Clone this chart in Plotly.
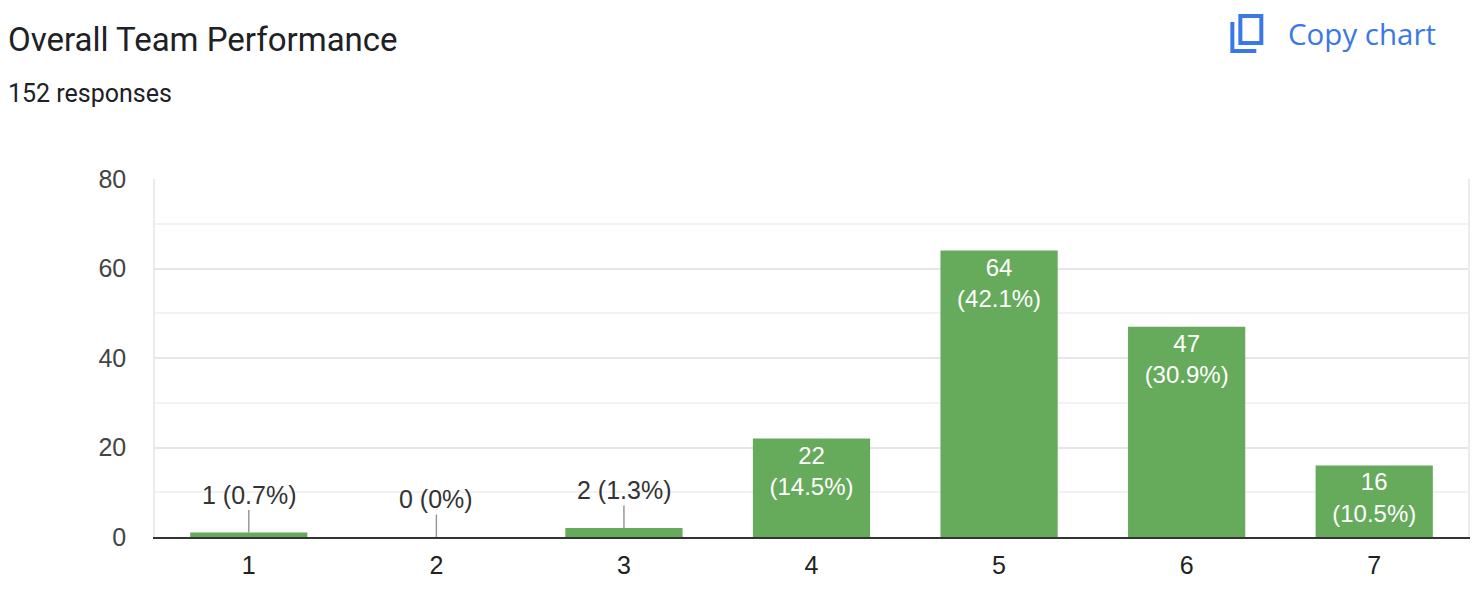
import plotly.graph_objects as go

# survey answers on a 1-7 scale
categories = ["1", "2", "3", "4", "5", "6", "7"]
counts = [1, 0, 2, 22, 64, 47, 16]
percents = ["0.7%", "0%", "1.3%", "14.5%", "42.1%", "30.9%", "10.5%"]
y_ticks = [0, 20, 40, 60, 80]

title_text = "Overall Team Performance"
subtitle_text = "152 responses"

W, H = 1482, 596
L, R, T, B = 155, 12, 179, 59
BAR_COLOR = "#66aa5c"
BLUE = "#3b78e7"


def px_x(p):
    # pixel column -> paper x
    return (p - L) / (W - L - R)


def px_y(p):
    # pixel row -> paper y
    return (H - B - p) / (H - T - B)


# small bars get their label outside with a leader line
small = [c < 5 for c in counts]
inside_text = [
    "" if s else f"{c}<br>({p})" for c, p, s in zip(counts, percents, small)
]

fig = go.Figure()
fig.add_trace(
    go.Bar(
        x=categories,
        y=counts,
        marker=dict(color=BAR_COLOR, line=dict(width=0)),
        text=inside_text,
        textposition="inside",
        insidetextanchor="end",
        textangle=0,
        textfont=dict(family="Liberation Sans, Arial", size=24, color="white"),
        hoverinfo="skip",
    )
)

for i, (c, p, s) in enumerate(zip(counts, percents, small)):
    if not s:
        continue
    fig.add_annotation(
        x=i,
        y=c,
        xref="x",
        yref="y",
        text=f"{c} ({p})",
        showarrow=True,
        arrowhead=0,
        arrowwidth=1.5,
        arrowcolor="#999999",
        ax=0,
        ay=-38,
        font=dict(family="Liberation Sans, Arial", size=25, color="#333333"),
    )

# header texts
fig.add_annotation(
    x=px_x(6), y=px_y(39), xref="paper", yref="paper",
    text=title_text, showarrow=False, xanchor="left", yanchor="middle",
    font=dict(family="Roboto", size=33, color="#202124"),
)
fig.add_annotation(
    x=px_x(6), y=px_y(94), xref="paper", yref="paper",
    text=subtitle_text, showarrow=False, xanchor="left", yanchor="middle",
    font=dict(family="Roboto", size=25, color="#202124"),
)
fig.add_annotation(
    x=px_x(1288), y=px_y(34), xref="paper", yref="paper",
    text="Copy chart", showarrow=False, xanchor="left", yanchor="middle",
    font=dict(family="Open Sans", size=29.5, color=BLUE),
)

# copy icon
fig.add_shape(
    type="rect", xref="paper", yref="paper",
    x0=px_x(1242), x1=px_x(1263), y0=px_y(43), y1=px_y(16),
    line=dict(color=BLUE, width=4), fillcolor="rgba(0,0,0,0)",
)
fig.add_shape(
    type="path", xref="paper", yref="paper",
    path=f"M {px_x(1234)},{px_y(22)} L {px_x(1234)},{px_y(51)} L {px_x(1258)},{px_y(51)}",
    line=dict(color=BLUE, width=4),
)

fig.update_layout(
    width=W,
    height=H,
    margin=dict(l=L, r=R, t=T, b=B),
    paper_bgcolor="white",
    plot_bgcolor="white",
    showlegend=False,
    bargap=0.375,
    xaxis=dict(
        type="category",
        showgrid=False,
        showline=True,
        linecolor="#333333",
        linewidth=2,
        ticks="outside",
        ticklen=5,
        tickcolor="rgba(0,0,0,0)",
        tickfont=dict(family="Liberation Sans, Arial", size=25, color="#222222"),
        fixedrange=True,
    ),
    yaxis=dict(
        range=[0, 80],
        tickvals=y_ticks,
        showgrid=True,
        gridcolor="#e6e6e6",
        gridwidth=1.5,
        minor=dict(dtick=10, showgrid=True, gridcolor="#f2f2f2", gridwidth=1.5),
        zeroline=False,
        showline=True,
        linecolor="#ebebeb",
        linewidth=1.5,
        mirror=True,
        ticks="outside",
        ticklen=22,
        tickcolor="rgba(0,0,0,0)",
        tickfont=dict(family="Liberation Sans, Arial", size=25, color="#444444"),
        fixedrange=True,
    ),
)

fig.write_html(
    "out.html",
    config={"displayModeBar": False},
    post_script="document.body.style.margin='0';",
)
